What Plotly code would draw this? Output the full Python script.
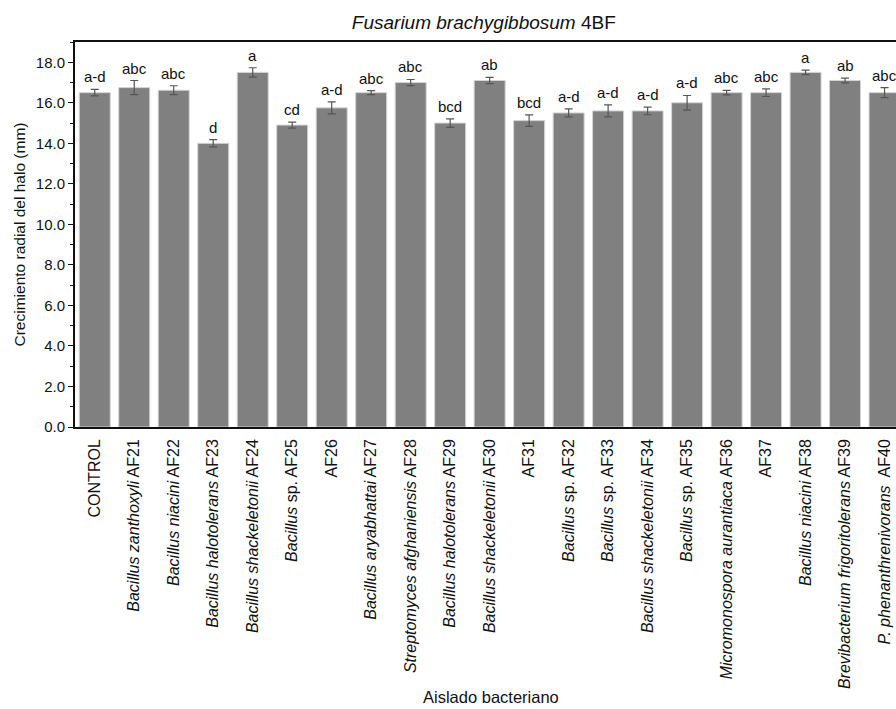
import plotly.graph_objects as go

# Bacterial isolates (italic genus/species, plain strain code)
isolates = [
    "CONTROL",
    "<i>Bacillus zanthoxyli</i> AF21",
    "<i>Bacillus niacini</i> AF22",
    "<i>Bacillus halotolerans</i> AF23",
    "<i>Bacillus shackeletonii</i> AF24",
    "<i>Bacillus</i> sp. AF25",
    "AF26",
    "<i>Bacillus aryabhattai</i> AF27",
    "<i>Streptomyces afghaniensis</i> AF28",
    "<i>Bacillus halotolerans</i> AF29",
    "<i>Bacillus shackeletonii</i> AF30",
    "AF31",
    "<i>Bacillus</i> sp. AF32",
    "<i>Bacillus</i> sp. AF33",
    "<i>Bacillus shackeletonii</i> AF34",
    "<i>Bacillus</i> sp. AF35",
    "<i>Micromonospora aurantiaca</i> AF36",
    "AF37",
    "<i>Bacillus niacini</i> AF38",
    "<i>Brevibacterium frigoritolerans</i> AF39",
    "<i>P. phenanthrenivorans</i>  AF40",
]

# Mean radial growth of the halo (mm) and standard error
growth_mm = [16.5, 16.75, 16.62, 14.0, 17.5, 14.9, 15.75, 16.5, 17.0, 15.0, 17.1,
             15.12, 15.5, 15.6, 15.6, 16.0, 16.5, 16.5, 17.5, 17.1, 16.5]
std_err = [0.16, 0.35, 0.22, 0.18, 0.23, 0.15, 0.30, 0.10, 0.15, 0.21, 0.15,
           0.28, 0.20, 0.30, 0.19, 0.36, 0.11, 0.19, 0.11, 0.12, 0.25]

# Significance groups
groups = ["a-d", "abc", "abc", "d", "a", "cd", "a-d", "abc", "abc", "bcd", "ab",
          "bcd", "a-d", "a-d", "a-d", "a-d", "abc", "abc", "a", "ab", "abc"]

FONT = "Liberation Sans, Arial, sans-serif"
positions = list(range(len(isolates)))

fig = go.Figure()
fig.add_trace(go.Bar(
    x=positions,
    y=growth_mm,
    marker=dict(color="#808080", line=dict(color="#d4d4d4", width=1)),
    error_y=dict(type="data", array=std_err, visible=True,
                 color="#555555", thickness=1.2, width=4),
    showlegend=False,
))

annotations = []
for xi, yi, ei, g in zip(positions, growth_mm, std_err, groups):
    annotations.append(dict(
        x=xi, y=yi + ei, xref="x", yref="y", text=g, showarrow=False,
        yanchor="bottom", xanchor="center", yshift=2,
        font=dict(family=FONT, size=15, color="#111111"),
    ))

# Axis titles
annotations.append(dict(
    x=0.507, y=-0.70, xref="paper", yref="paper", text="Aislado bacteriano",
    showarrow=False, xanchor="center", yanchor="middle",
    font=dict(family=FONT, size=16.5, color="#111111"),
))
annotations.append(dict(
    x=-0.067, y=0.5, xref="paper", yref="paper",
    text="Crecimiento radial del halo (mm)", textangle=-90,
    showarrow=False, xanchor="center", yanchor="middle",
    font=dict(family=FONT, size=15.5, color="#111111"),
))

fig.update_layout(
    width=896, height=709,
    margin=dict(l=75, r=0, t=42, b=282),
    paper_bgcolor="white", plot_bgcolor="white",
    bargap=0.215,
    title=dict(text="<i>Fusarium brachygibbosum</i> 4BF", x=0.54, xanchor="center",
               y=1 - 22 / 709, yanchor="middle", yref="container",
               font=dict(family=FONT, size=19, color="#111111")),
    annotations=annotations,
    font=dict(family=FONT, color="#111111"),
)

fig.update_xaxes(
    range=[-0.5, 20.29],
    tickmode="array", tickvals=positions, ticktext=isolates,
    tickangle=-90, ticks="", ticklabelstandoff=4,
    tickfont=dict(family=FONT, size=16, color="#111111"),
    showline=True, linecolor="#111111", linewidth=1.6, mirror=True,
    showgrid=False, zeroline=False, automargin=False,
)

fig.update_yaxes(
    range=[0, 19],
    tickmode="linear", tick0=0, dtick=2, tickformat=".1f",
    ticks="outside", ticklen=5, tickwidth=1.2, tickcolor="#111111",
    minor=dict(dtick=1, ticks="outside", ticklen=3, tickwidth=1.2, tickcolor="#111111"),
    tickfont=dict(family=FONT, size=15, color="#111111"),
    showline=True, linecolor="#111111", linewidth=2, mirror=False,
    showgrid=False, zeroline=False, automargin=False,
)

fig.write_html("out.html")
